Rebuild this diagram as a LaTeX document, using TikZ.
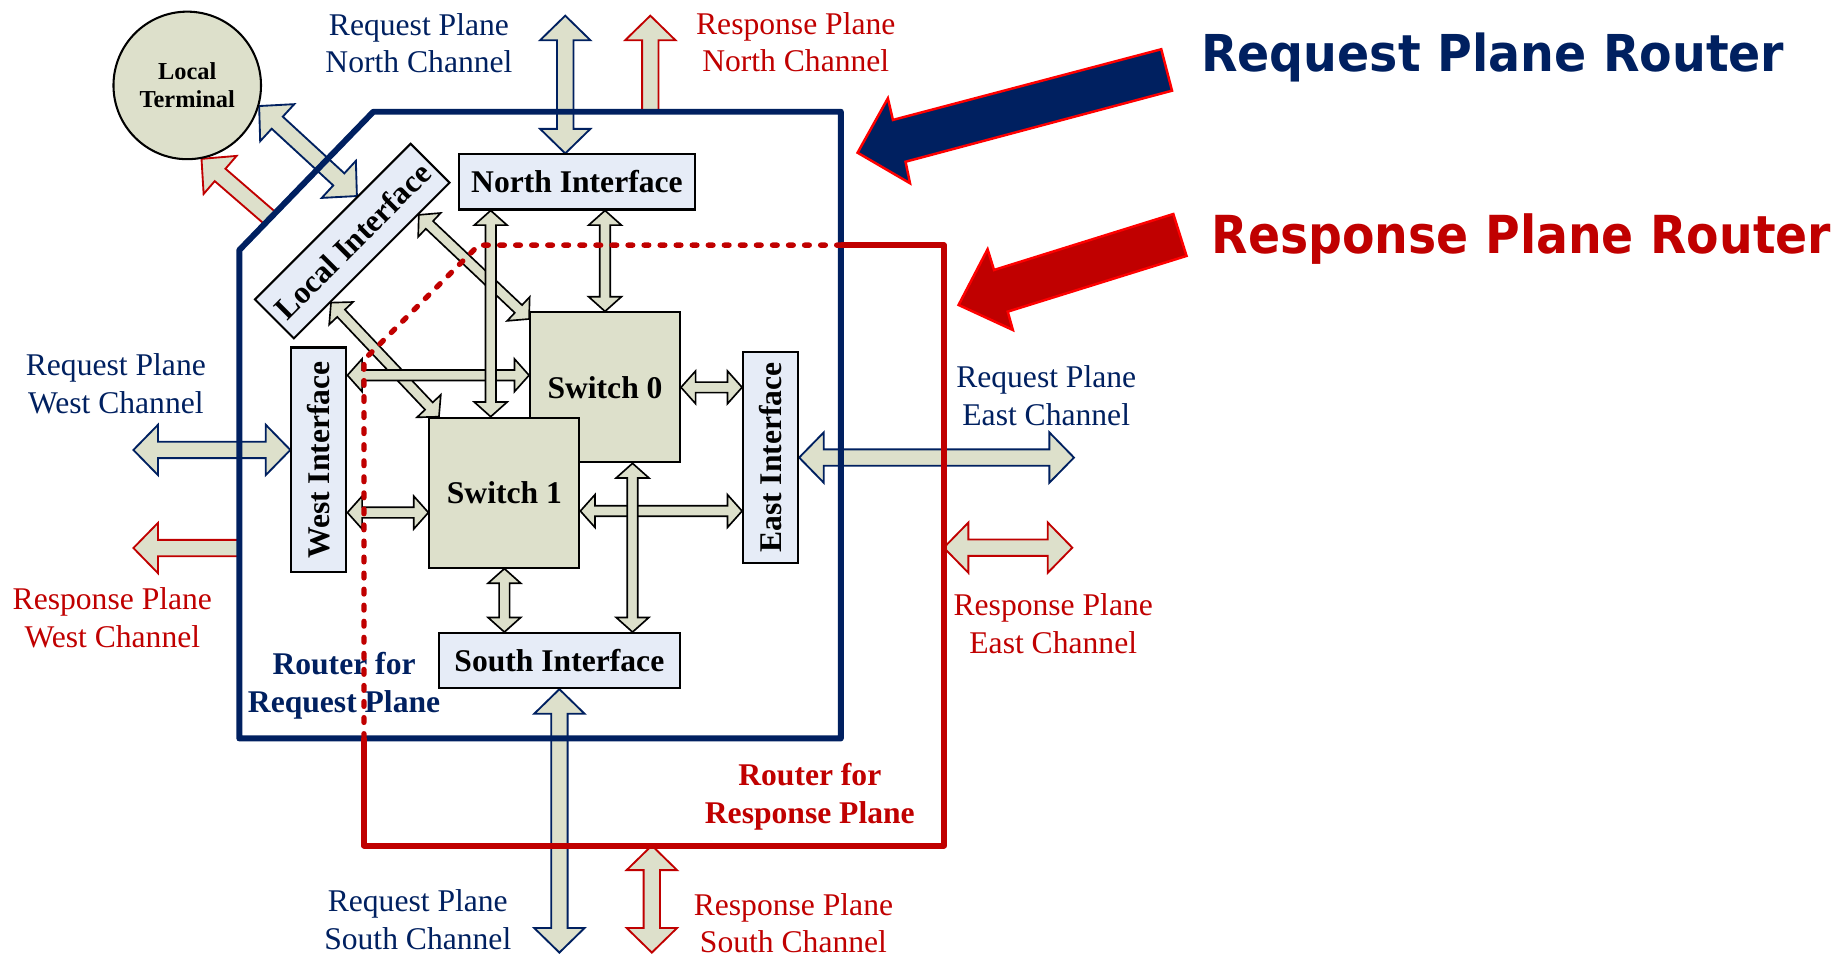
\documentclass[tikz,border=0pt]{standalone}
\usepackage{fontspec}
\setmainfont{Liberation Serif}
\newfontfamily\titlefont{DejaVu Sans}
\usetikzlibrary{calc}
\pgfdeclarelayer{arrowlayer}
\pgfdeclarelayer{front}
\pgfsetlayers{arrowlayer,main,front}
\definecolor{navy}{RGB}{0,32,96}
\definecolor{dred}{RGB}{192,0,0}
\definecolor{bred}{RGB}{255,0,0}
\definecolor{khaki}{RGB}{221,224,203}
\definecolor{ifc}{RGB}{230,236,247}
% double-headed block arrow: style, A, B, half shaft, half head, head length
\newcommand\dblarr[6]{\draw[#1] (#2) -- ($(#2)!#6!(#3)!#5!90:(#3)$) -- ($(#2)!#6!(#3)!#4!90:(#3)$) -- ($(#3)!#6!(#2)!#4!-90:(#2)$) -- ($(#3)!#6!(#2)!#5!-90:(#2)$) -- (#3) -- ($(#3)!#6!(#2)!#5!90:(#2)$) -- ($(#3)!#6!(#2)!#4!90:(#2)$) -- ($(#2)!#6!(#3)!#4!-90:(#3)$) -- ($(#2)!#6!(#3)!#5!-90:(#3)$) -- cycle;}
% single-headed block arrow: style, tip, tail, half shaft, half head, head length
\newcommand\sglarr[6]{\draw[#1] (#2) -- ($(#2)!#6!(#3)!#5!90:(#3)$) -- ($(#2)!#6!(#3)!#4!90:(#3)$) -- ($(#3)!#4!-90:(#2)$) -- ($(#3)!#4!90:(#2)$) -- ($(#2)!#6!(#3)!#4!-90:(#3)$) -- ($(#2)!#6!(#3)!#5!-90:(#3)$) -- cycle;}
\newcommand\intarr[2]{\dblarr{intarrow}{#1}{#2}{0.045cm}{0.14cm}{0.125cm}}
\newcommand\extarr[3]{\dblarr{#1}{#2}{#3}{0.07cm}{0.215cm}{0.21cm}}
\newcommand\extsgl[3]{\sglarr{#1}{#2}{#3}{0.07cm}{0.215cm}{0.21cm}}
\tikzset{
 lbl/.style={align=center, inner sep=0pt, font=\fontsize{7.68pt}{9.1pt}\selectfont},
 rtr/.style={align=center, inner sep=0pt, font=\fontsize{7.68pt}{9.1pt}\selectfont\bfseries},
 ifbox/.style={draw=black, line width=0.5pt, fill=ifc, inner sep=0pt, minimum height=0.47cm, font=\fontsize{7.68pt}{9.1pt}\selectfont\bfseries},
 swbox/.style={draw=black, line width=0.5pt, fill=khaki, inner sep=0pt, minimum size=1.28cm, font=\fontsize{7.68pt}{9.1pt}\selectfont\bfseries},
 term/.style={circle, draw=black, line width=0.5pt, fill=khaki, minimum size=1.26cm, inner sep=0pt, align=center, font=\fontsize{5.92pt}{6.9pt}\selectfont\bfseries},
 intarrow/.style={draw=black, fill=khaki, line width=0.4pt},
 reqarrow/.style={draw=navy, fill=khaki, line width=0.45pt},
 resarrow/.style={draw=dred, fill=khaki, line width=0.45pt},
 bigblue/.style={draw=bred, fill=navy, line width=0.6pt},
 bigred/.style={draw=bred, fill=dred, line width=0.6pt},
 reqrouter/.style={draw=navy, line width=1.45pt, line join=round},
 resrouter/.style={draw=dred, line width=1.45pt, line join=round},
 resdash/.style={draw=dred, line width=1.3pt, dash pattern=on 1.15pt off 2.75pt, line cap=round},
 title/.style={anchor=base west, inner sep=0pt},
}
\begin{document}
\begin{tikzpicture}[x=0.01cm, y=-0.01cm]
\useasboundingbox (0,0) rectangle (1568,816);

% ---- router outline reference points
\coordinate (bBL) at (204.5,631);
\coordinate (bDL) at (204.5,213.7);
\coordinate (bDT) at (319,95.5);
\coordinate (bTR) at (718.5,95.5);
\coordinate (bBR) at (718.5,631);
\coordinate (rBL) at (311,722.5);
\coordinate (rDL) at (311,307.5);
\coordinate (rDT) at (409,209.5);
\coordinate (rTR) at (806.5,209.5);
\coordinate (rBR) at (806.5,722.5);

% ---- nodes
\node[term] (lt) at (160,73) {Local\\Terminal};
\node[ifbox, minimum width=2.02cm] (ni) at (493,155.5) {North Interface};
\node[ifbox, minimum width=1.88cm, rotate=45] (li) at (301,206) {Local Interface};
\node[ifbox, minimum width=1.92cm, rotate=90] (wi) at (272.5,393) {West Interface};
\node[ifbox, minimum width=1.80cm, rotate=90] (ei) at (658.5,391) {East Interface};
\node[ifbox, minimum width=2.06cm] (si) at (478,564.5) {South Interface};
\node[swbox] (sw0) at (517,331) {Switch 0};
\node[swbox] (sw1) at (431,421) {Switch 1};

% ---- labels
\node[lbl, text=navy] (lnq) at (358,37) {Request Plane\\North Channel};
\node[lbl, text=dred] (lnr) at (680,36) {Response Plane\\North Channel};
\node[lbl, text=navy] (lwq) at (99,328) {Request Plane\\West Channel};
\node[lbl, text=dred] (lwr) at (96,528) {Response Plane\\West Channel};
\node[lbl, text=navy] (leq) at (894,338) {Request Plane\\East Channel};
\node[lbl, text=dred] (ler) at (900,533) {Response Plane\\East Channel};
\node[lbl, text=navy] (lsq) at (357,786) {Request Plane\\South Channel};
\node[lbl, text=dred] (lsr) at (678,789) {Response Plane\\South Channel};
\node[rtr, text=navy] (rq) at (294,586) {Router for\\Request Plane};
\node[rtr, text=dred] (rr) at (692,681) {Router for\\Response Plane};

% ---- titles
\node[title, text=navy] (t1) at (1025.7,61.2) {\resizebox{4.98cm}{0.33cm}{\titlefont\bfseries Request Plane Router}};
\node[title, text=dred] (t2) at (1034.8,216.5) {\resizebox{5.29cm}{0.34cm}{\titlefont\bfseries Response Plane Router}};

% ---- big pointer arrows
\draw[bigblue] (732.8,130.5) -- (758.7,84) -- (763,102.5) -- (992.3,42.1) -- (1001.5,77.5) -- (773.8,138.2) -- (777.6,156.6) -- cycle;
\draw[bigred] (819.1,260.6) -- (843.9,213) -- (849.4,230.7) -- (1002.6,182.9) -- (1013.9,218.7) -- (861.1,266.3) -- (865.5,282) -- cycle;

% ---- helper coordinates for connectors
\coordinate (c2) at ($(sw1.north)+(-11.7,0)$);
\coordinate (s3) at ($(li.south)!0.56cm!(li.south east)$);
\coordinate (e3) at ($(sw0.north west)+(0,6.5)$);
\coordinate (s4) at ($(li.south)!0.5cm!(li.south west)$);
\coordinate (e4) at ($(sw1.north west)+(9,0)$);
\coordinate (c5) at ($(sw0.north west)+(0,54.6)$);
\coordinate (c6) at ($(sw1.west)+(0,17)$);
\coordinate (c8) at ($(sw1.east)+(0,15.7)$);
\coordinate (c10) at ($(sw0.south)+(23.5,0)$);
\coordinate (nq) at (483,13.4);
\coordinate (nr) at (555.7,13.4);
\coordinate (wq) at (114,384.5);
\coordinate (wr) at (114,468.3);
\coordinate (eq) at (917.7,391);
\coordinate (er) at (916.3,468);
\coordinate (sq) at (478,814);
\coordinate (sr) at (557,814);
\coordinate (lq) at ($(li.north)!0.3cm!(li.north east)$);
\coordinate (lr) at ($(bDL)!0.23!(bDT)$);

\begin{pgfonlayer}{arrowlayer}
% external request plane
\extarr{reqarrow}{nq}{ni.north -| nq}
\extarr{reqarrow}{wq}{wi.north |- wq}
\extarr{reqarrow}{eq}{ei.south |- eq}
\extarr{reqarrow}{sq}{si.south}
\extarr{reqarrow}{lt.-16}{lq}
% external response plane
\extsgl{resarrow}{nr}{nr |- bTR}
\extsgl{resarrow}{wr}{wr -| bBL}
\extarr{resarrow}{er}{er -| rTR}
\extarr{resarrow}{sr}{sr |- rBL}
\extsgl{resarrow}{lt.-79}{lr}
% internal
\intarr{s3}{e3}
\intarr{s4}{e4}
\intarr{wi.south |- c5}{c5}
\intarr{wi.south |- c6}{c6}
\intarr{sw0.east}{ei.north |- sw0.east}
\intarr{c8}{ei.north |- c8}
\intarr{sw0.north}{ni.south -| sw0.north}
\intarr{c2}{ni.south -| c2}
\intarr{sw1.south}{si.north -| sw1.south}
\intarr{c10}{si.north -| c10}
\end{pgfonlayer}

\begin{pgfonlayer}{front}
\draw[reqrouter] (bBL) -- (bDL) -- (bDT) -- (bTR) -- (bBR) -- cycle;
\draw[resrouter] (rTR -| bTR) -- (rTR) -- (rBR) -- (rBL) -- (rBL |- bBL);
\draw[resdash] (rBL |- bBL) -- (rDL) -- (rDT) -- (rTR -| bTR);
\end{pgfonlayer}
\end{tikzpicture}
\end{document}
